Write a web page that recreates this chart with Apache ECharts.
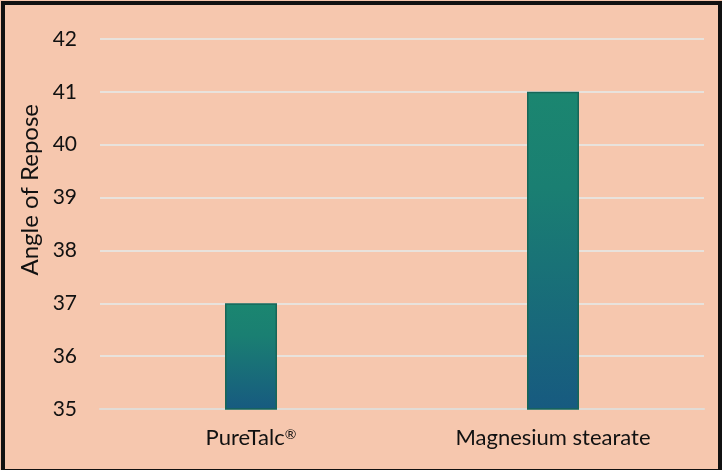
<!DOCTYPE html>
<html>
<head>
<meta charset="utf-8">
<script src="https://cdn.jsdelivr.net/npm/echarts@6/dist/echarts.min.js"></script>
<style>
  html, body { margin: 0; padding: 0; background: #fff; }
  #wrap { position: relative; width: 722px; height: 470px; }
  #chart { position: absolute; left: 0; top: 0; width: 722px; height: 470px; background: #F6C7AE; }
  #frame { position: absolute; left: 1px; top: 1px; width: 713px; height: 464px; border: 4px solid #111; pointer-events: none; }
</style>
</head>
<body>
<div id="wrap">
  <div id="chart"></div>
  <div id="frame"></div>
</div>
<script>
    var categories = ['PureTalc®', 'Magnesium stearate'];
    var values = [37, 41];
    var yMin = 35, yMax = 42, yStep = 1;

    var myChart = echarts.init(document.getElementById('chart'));
    var font = 'Lato, "Noto Sans", sans-serif';
    var option = {
        animation: false,
        grid: { left: 100, right: 18, top: 39, bottom: 61 },
        xAxis: {
            type: 'category',
            data: categories,
            axisLine: { show: true, lineStyle: { color: '#E2DCD6', width: 2 } },
            axisTick: { show: false },
            axisLabel: {
                color: '#111', fontSize: 22, fontFamily: font, margin: 18,
                // 注册商标符号用小号上标
                formatter: function (v) {
                    return v.replace('®', '{sup|®}');
                },
                rich: {
                    sup: { fontSize: 14, fontFamily: font, color: '#111', verticalAlign: 'top', padding: [0, 0, 8, 0] }
                }
            }
        },
        yAxis: {
            type: 'value',
            min: yMin,
            max: yMax,
            interval: yStep,
            axisLine: { show: false },
            axisTick: { show: false },
            splitLine: { lineStyle: { color: '#E8E2DC', width: 2 } },
            axisLabel: { color: '#111', fontSize: 21, fontFamily: font, margin: 23 }
        },
        graphic: [{
            type: 'text',
            left: 18,
            top: 104,
            rotation: Math.PI / 2,
            style: { text: 'Angle of Repose', fill: '#111', fontSize: 24, fontFamily: font }
        }],
        series: [{
            type: 'bar',
            data: values,
            barWidth: 52,
            itemStyle: {
                borderColor: '#176657',
                borderWidth: 1.5,
                color: new echarts.graphic.LinearGradient(0, 0, 0, 1, [
                    { offset: 0, color: '#1B8670' },
                    { offset: 0.3, color: '#1A7F72' },
                    { offset: 1, color: '#175A80' }
                ])
            }
        }]
    };
    myChart.setOption(option);
</script>
</body>
</html>
